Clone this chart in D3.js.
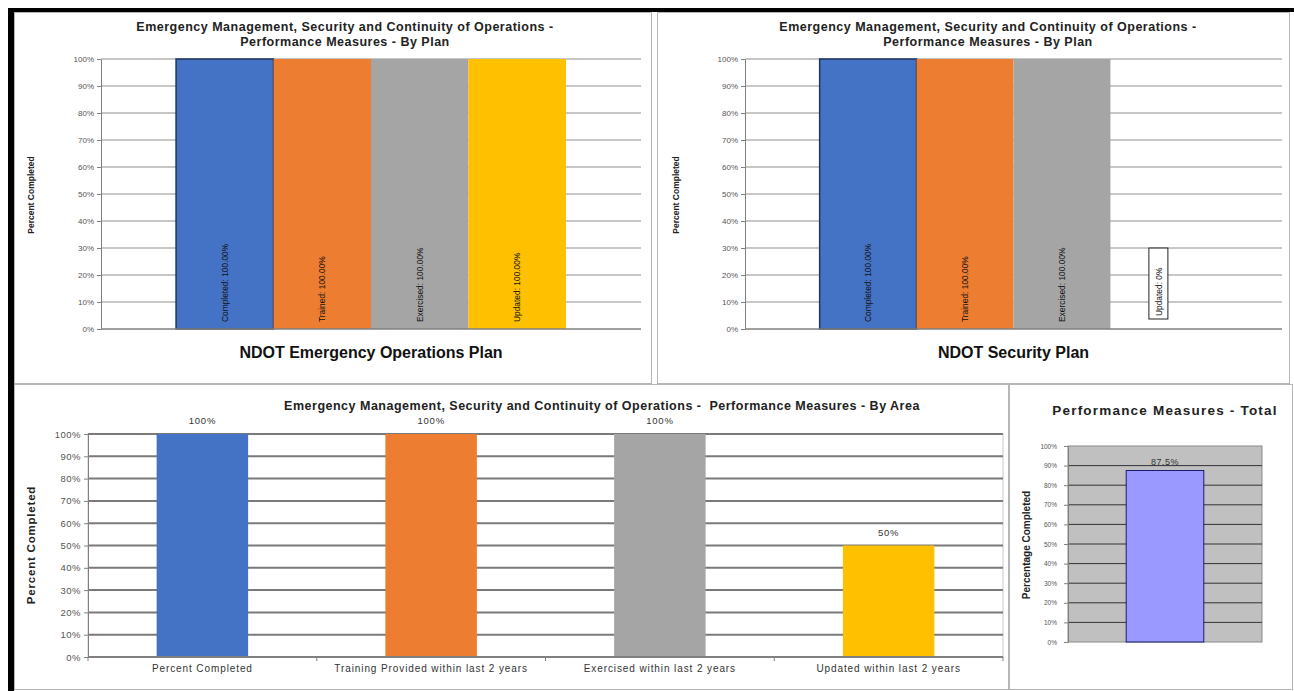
<!DOCTYPE html>
<html>
<head>
  <title>Emergency Management Performance Measures</title>
  <style>
    body { margin: 0; background: #fff; }
    svg { display: block; font-family: 'Liberation Sans', Arial, sans-serif; }
    .tick text { fill: #555; }
  </style>
</head>
<body>
  <div id="chart"></div>

  <script src="https://d3js.org/d3.v7.min.js"></script>
  <script>
    // Data
    const planCategories = ["Completed", "Trained", "Exercised", "Updated"];
    const planColors = ["#4472c4", "#ed7d31", "#a5a5a5", "#ffc000"];
    const eopValues = [100, 100, 100, 100];
    const securityValues = [100, 100, 100, 0];

    const areaCategories = ["Percent Completed", "Training Provided within last 2 years",
      "Exercised within last 2 years", "Updated within last 2 years"];
    const areaValues = [100, 100, 100, 50];

    const totalCategories = ["Total"];
    const totalValues = [87.5];

    const yTicks = [0, 10, 20, 30, 40, 50, 60, 70, 80, 90, 100];

    const planTitle = ["Emergency Management, Security and Continuity of Operations -",
      "Performance Measures - By Plan"];

    const svg = d3.select("#chart")
      .append("svg")
      .attr("width", 1294)
      .attr("height", 691);

    // outer frame
    svg.append("rect").attr("x", 8).attr("y", 8).attr("width", 1286).attr("height", 4).attr("fill", "#000");
    svg.append("rect").attr("x", 8).attr("y", 8).attr("width", 6).attr("height", 683).attr("fill", "#000");

    // panel borders
    const panels = [[14.5, 12.5, 637, 371], [657.5, 12.5, 632, 371], [14.5, 384.5, 994, 305], [1009.5, 384.5, 283, 305]];
    panels.forEach(p => {
      svg.append("rect").attr("x", p[0]).attr("y", p[1]).attr("width", p[2]).attr("height", p[3])
        .attr("fill", "none").attr("stroke", "#b5b5b5");
    });

    function yAxis(g, y, x0, fontSize, pad, spacing) {
      g.append("g")
        .attr("transform", `translate(${x0},0)`)
        .call(d3.axisLeft(y).tickValues(yTicks).tickFormat(d => d + "%").tickSize(4).tickSizeOuter(0).tickPadding(pad))
        .call(a => a.selectAll("line, path").attr("stroke", "#808080"))
        .call(a => a.selectAll("text").attr("font-size", fontSize).attr("letter-spacing", spacing || 0)
          .attr("font-family", "'Liberation Sans', Arial, sans-serif"));
    }

    function yTitle(text, x, cy, size, spacing) {
      svg.append("text")
        .attr("transform", `translate(${x},${cy}) rotate(-90)`)
        .attr("text-anchor", "middle")
        .attr("font-size", size)
        .attr("font-weight", "bold")
        .attr("letter-spacing", spacing || 0)
        .attr("fill", "#222")
        .text(text);
    }

    // ---- By plan charts ----
    function planChart(values, x0, x1, titleX, xLabel) {
      const g = svg.append("g");
      const y = d3.scaleLinear().domain([0, 100]).range([329, 59]);
      const inset = (x1 - x0) * 0.139;
      const x = d3.scaleBand().domain(planCategories).range([x0 + inset, x1 - inset]).paddingInner(0);

      planTitle.forEach((t, i) => {
        g.append("text").attr("x", titleX).attr("y", 31 + i * 15)
          .attr("text-anchor", "middle").attr("font-size", 12.5).attr("font-weight", "bold")
          .attr("fill", "#222").attr("letter-spacing", 0.5).text(t);
      });

      g.append("g").selectAll("line").data(yTicks.slice(1)).join("line")
        .attr("x1", x0).attr("x2", x1).attr("y1", d => y(d)).attr("y2", d => y(d))
        .attr("stroke", "#8f8f8f").attr("stroke-width", 1.2);

      g.append("g").selectAll("rect").data(values).join("rect")
        .attr("x", (d, i) => x(planCategories[i]))
        .attr("y", d => y(d))
        .attr("width", x.bandwidth())
        .attr("height", d => y(0) - y(d))
        .attr("fill", (d, i) => planColors[i])
        .attr("stroke", (d, i) => i === 0 ? "#1f3560" : "none")
        .attr("stroke-width", 1.5);

      yAxis(g, y, x0, 8, 3);
      g.append("line").attr("x1", x0).attr("x2", x1).attr("y1", y(0)).attr("y2", y(0))
        .attr("stroke", "#808080").attr("stroke-width", 1.5);

      const labels = g.append("g").selectAll("g").data(values).join("g")
        .attr("transform", (d, i) => `translate(${x(planCategories[i]) + x.bandwidth() / 2 + 3},${y(0) - 7}) rotate(-90)`);
      labels.each(function(d, i) {
        const lg = d3.select(this);
        const t = lg.append("text")
          .attr("font-size", 8.4)
          .attr("fill", "#111")
          .text(planCategories[i] + ": " + (d === 0 ? "0%" : d.toFixed(2) + "%"));
        if (d === 0) {
          t.attr("x", 6);
          const b = t.node().getBBox();
          lg.insert("rect", "text")
            .attr("x", b.x - 3).attr("y", b.y - 5)
            .attr("width", b.width + 22).attr("height", b.height + 9)
            .attr("fill", "#fff").attr("stroke", "#222").attr("stroke-width", 1);
        }
      });

      g.append("text").attr("x", (x0 + x1) / 2).attr("y", 358)
        .attr("text-anchor", "middle").attr("font-size", 16).attr("font-weight", "bold")
        .attr("fill", "#111").text(xLabel);
    }

    planChart(eopValues, 101, 641, 345, "NDOT Emergency Operations Plan");
    yTitle("Percent Completed", 34, 195, 8.5);
    planChart(securityValues, 745, 1282, 988, "NDOT Security Plan");
    yTitle("Percent Completed", 679, 195, 8.5);

    // ---- By area chart ----
    (function() {
      const g = svg.append("g");
      const x0 = 88, x1 = 1003;
      const y = d3.scaleLinear().domain([0, 100]).range([657, 434]);
      const x = d3.scaleBand().domain(areaCategories).range([x0, x1]).paddingInner(0.6).paddingOuter(0.3);

      g.append("text").attr("x", 602).attr("y", 410)
        .attr("text-anchor", "middle").attr("font-size", 12.5).attr("font-weight", "bold")
        .attr("fill", "#222").attr("letter-spacing", 0.5).style("white-space", "pre")
        .text("Emergency Management, Security and Continuity of Operations -  Performance Measures - By Area");

      g.append("rect").attr("x", x0).attr("y", y(100)).attr("width", x1 - x0).attr("height", y(0) - y(100))
        .attr("fill", "#fff").attr("stroke", "#c8c8c8");

      g.append("g").selectAll("line").data(yTicks.slice(1)).join("line")
        .attr("x1", x0).attr("x2", x1).attr("y1", d => y(d)).attr("y2", d => y(d))
        .attr("stroke", "#7a7a7a").attr("stroke-width", 2);

      g.append("g").selectAll("rect").data(areaValues).join("rect")
        .attr("x", (d, i) => x(areaCategories[i]))
        .attr("y", d => y(d))
        .attr("width", x.bandwidth())
        .attr("height", d => y(0) - y(d))
        .attr("fill", (d, i) => planColors[i]);

      g.append("g").selectAll("text").data(areaValues).join("text")
        .attr("x", (d, i) => x(areaCategories[i]) + x.bandwidth() / 2)
        .attr("y", d => y(d) - 10)
        .attr("text-anchor", "middle").attr("font-size", 9.5).attr("letter-spacing", 0.8).attr("fill", "#333")
        .text(d => d + "%");

      yAxis(g, y, x0, 9.5, 3, 0.5);

      // x axis with boundary ticks
      g.append("line").attr("x1", x0).attr("x2", x1).attr("y1", y(0)).attr("y2", y(0))
        .attr("stroke", "#808080").attr("stroke-width", 2);
      g.append("g").selectAll("line").data(d3.range(areaCategories.length + 1)).join("line")
        .attr("x1", i => x0 + i * x.step()).attr("x2", i => x0 + i * x.step())
        .attr("y1", y(0)).attr("y2", y(0) + 4).attr("stroke", "#808080");
      g.append("g").selectAll("text").data(areaCategories).join("text")
        .attr("x", d => x(d) + x.bandwidth() / 2)
        .attr("y", y(0) + 15)
        .attr("text-anchor", "middle").attr("font-size", 10).attr("letter-spacing", 0.9).attr("fill", "#333")
        .text(d => d);

      yTitle("Percent Completed", 35, 545, 11.5, 0.8);
    })();

    // ---- Total chart ----
    (function() {
      const g = svg.append("g");
      const x0 = 1068, x1 = 1262;
      const y = d3.scaleLinear().domain([0, 100]).range([642, 446]);
      const x = d3.scaleBand().domain(totalCategories).range([x0, x1]).paddingInner(0.6).paddingOuter(0.3);

      g.append("text").attr("x", 1165).attr("y", 415)
        .attr("text-anchor", "middle").attr("font-size", 13.5).attr("font-weight", "bold")
        .attr("letter-spacing", 1.2).attr("fill", "#222").text("Performance Measures - Total");

      g.append("rect").attr("x", x0).attr("y", y(100)).attr("width", x1 - x0).attr("height", y(0) - y(100))
        .attr("fill", "#c0c0c0").attr("stroke", "#8a8a8a");

      g.append("g").selectAll("line").data(yTicks.slice(1, -1)).join("line")
        .attr("x1", x0).attr("x2", x1).attr("y1", d => y(d)).attr("y2", d => y(d))
        .attr("stroke", "#333").attr("stroke-width", 1);

      g.append("g").selectAll("rect").data(totalValues).join("rect")
        .attr("x", (d, i) => x(totalCategories[i]))
        .attr("y", d => y(d))
        .attr("width", x.bandwidth())
        .attr("height", d => y(0) - y(d))
        .attr("fill", "#9999ff").attr("stroke", "#1a1a6e").attr("stroke-width", 1);

      g.append("g").selectAll("text").data(totalValues).join("text")
        .attr("x", (d, i) => x(totalCategories[i]) + x.bandwidth() / 2)
        .attr("y", d => y(d) - 6)
        .attr("text-anchor", "middle").attr("font-size", 9).attr("letter-spacing", 0.5).attr("fill", "#333")
        .text(d => d + "%");

      yAxis(g, y, x0, 6.5, 7);

      yTitle("Percentage Completed", 1030, 545, 10);
    })();
  </script>
</body>
</html>
